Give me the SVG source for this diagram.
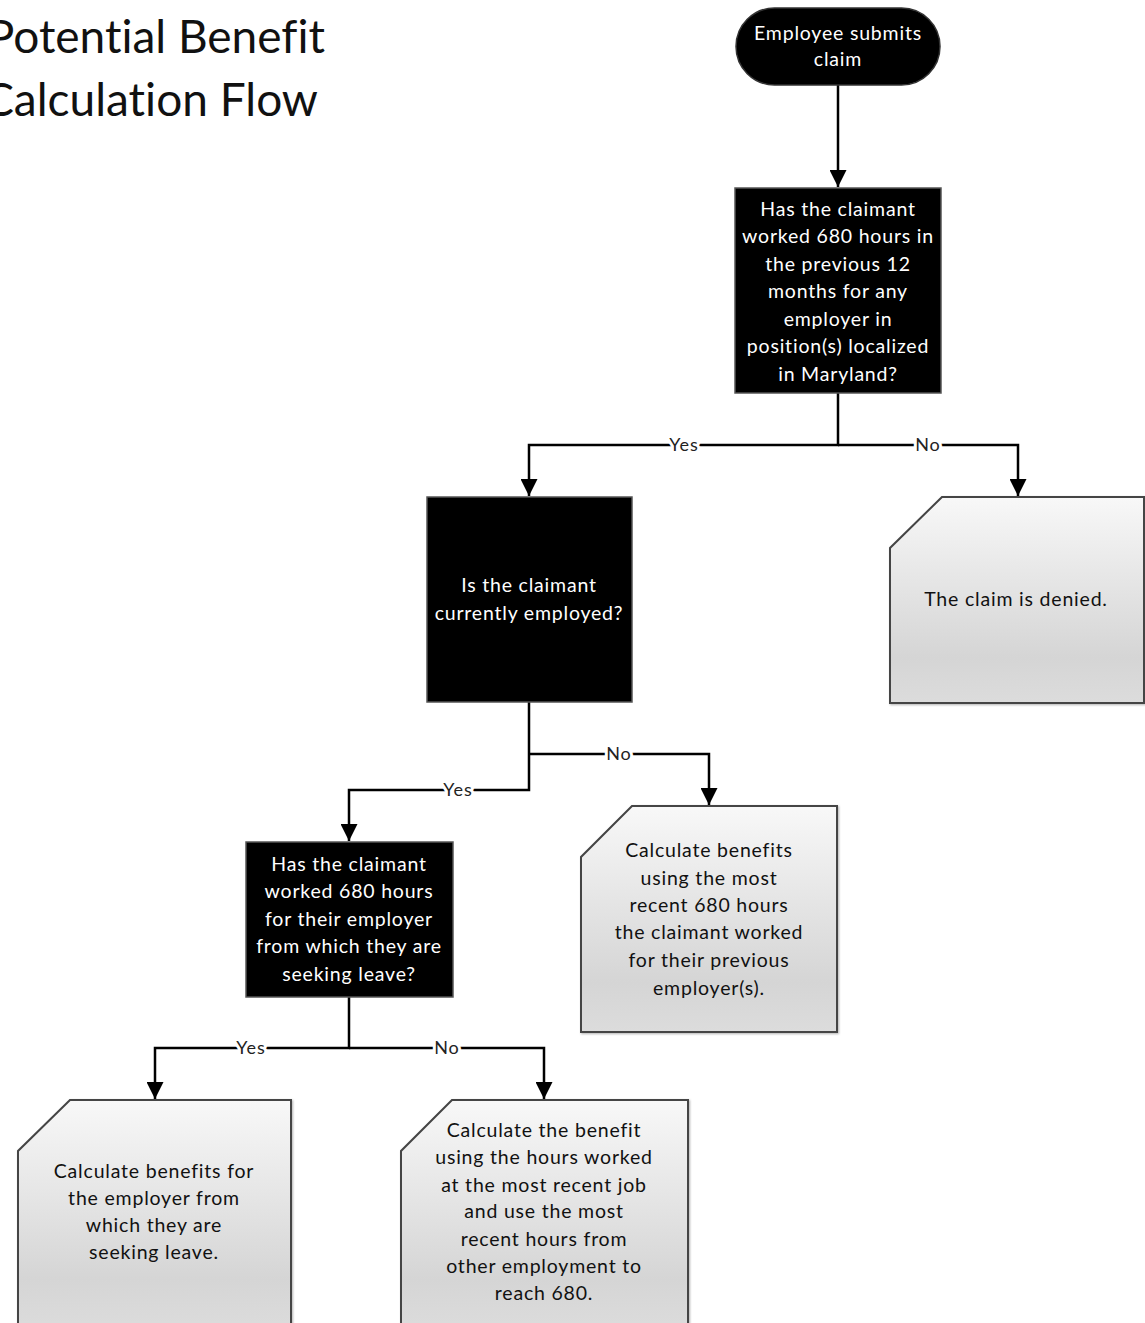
<svg xmlns="http://www.w3.org/2000/svg" width="1145" height="1323" viewBox="0 0 1145 1323">
<style>
.title{font-family:"Lato","Open Sans","Liberation Sans",sans-serif;font-size:46px;fill:#111;text-anchor:end;font-variant-ligatures:none}
.wt{font-family:"Lato","Open Sans","Liberation Sans",sans-serif;font-size:19.5px;letter-spacing:0.8px;fill:#fff;text-anchor:middle;font-variant-ligatures:none}
.bt{font-family:"Lato","Open Sans","Liberation Sans",sans-serif;font-size:19.5px;letter-spacing:0.8px;fill:#111;text-anchor:middle;font-variant-ligatures:none}
.dec{fill:#000;stroke:#555;stroke-width:1.5}
.proc{fill:url(#g);stroke:#444;stroke-width:2}
.con{fill:none;stroke:#000;stroke-width:2.5;marker-end:url(#arr)}
.lbl{font-family:"Lato","Open Sans","Liberation Sans",sans-serif;font-size:18px;letter-spacing:1px;fill:#222;text-anchor:middle;stroke:#fff;stroke-width:6;paint-order:stroke;stroke-linejoin:round}
</style>
<defs>
<linearGradient id="g" x1="0" y1="0" x2="0" y2="1">
<stop offset="0" stop-color="#f8f8f8"/>
<stop offset="0.78" stop-color="#d5d5d5"/>
<stop offset="1" stop-color="#dcdcdc"/>
</linearGradient>
<marker id="arr" viewBox="0 0 10 10" refX="10" refY="5" markerWidth="17" markerHeight="17" markerUnits="userSpaceOnUse" orient="auto">
<path d="M0,0 L10,5 L0,10 z" fill="#000"/>
</marker>
<filter id="sh" x="-5%" y="-5%" width="110%" height="110%">
<feDropShadow dx="1" dy="1" stdDeviation="1" flood-color="#000" flood-opacity="0.3"/>
</filter>
</defs>
<rect width="1145" height="1323" fill="#fff"/>

<g id="title">
<text class="title" x="325" y="53">Potential Benefit</text>
<text class="title" x="318" y="116">Calculation Flow</text>
</g>

<g id="connectors">
<path class="con" d="M838,85 L838,187"/>
<path class="con" d="M838,393 L838,445 L529,445 L529,496"/>
<path class="con" d="M838,445 L1018,445 L1018,496"/>
<path class="con" d="M529,702 L529,790 L349,790 L349,841"/>
<path class="con" d="M529,754 L709,754 L709,805"/>
<path class="con" d="M349,997 L349,1048 L155,1048 L155,1099"/>
<path class="con" d="M349,1048 L544,1048 L544,1099"/>
<text class="lbl" x="684" y="451">Yes</text>
<text class="lbl" x="928" y="451">No</text>
<text class="lbl" x="619" y="760">No</text>
<text class="lbl" x="458" y="796">Yes</text>
<text class="lbl" x="251" y="1054">Yes</text>
<text class="lbl" x="447" y="1054">No</text>
</g>

<g id="start">
<rect x="736" y="8" width="204" height="77" rx="38.5" ry="38.5" fill="#000" stroke="#333" stroke-width="1.5"/>
<text class="wt" x="838" y="40">Employee submits</text>
<text class="wt" x="838" y="66">claim</text>
</g>

<g id="decision1">
<rect class="dec" x="735" y="188" width="206" height="205"/>
<text class="wt" x="838" y="216">Has the claimant</text>
<text class="wt" x="838" y="243">worked 680 hours in</text>
<text class="wt" x="838" y="271">the previous 12</text>
<text class="wt" x="838" y="298">months for any</text>
<text class="wt" x="838" y="326">employer in</text>
<text class="wt" x="838" y="353">position(s) localized</text>
<text class="wt" x="838" y="381">in Maryland?</text>
</g>

<g id="denied">
<path class="proc" filter="url(#sh)" d="M942,497 L1144,497 L1144,703 L890,703 L890,548 Z"/>
<text class="bt" x="1016" y="606">The claim is denied.</text>
</g>

<g id="decision2">
<rect class="dec" x="427" y="497" width="205" height="205"/>
<text class="wt" x="529" y="592">Is the claimant</text>
<text class="wt" x="529" y="620">currently employed?</text>
</g>

<g id="previous">
<path class="proc" filter="url(#sh)" d="M632,806 L837,806 L837,1032 L581,1032 L581,857 Z"/>
<text class="bt" x="709" y="857">Calculate benefits</text>
<text class="bt" x="709" y="885">using the most</text>
<text class="bt" x="709" y="912">recent 680 hours</text>
<text class="bt" x="709" y="939">the claimant worked</text>
<text class="bt" x="709" y="967">for their previous</text>
<text class="bt" x="709" y="995">employer(s).</text>
</g>

<g id="decision3">
<rect class="dec" x="246" y="842" width="207" height="155"/>
<text class="wt" x="349" y="871">Has the claimant</text>
<text class="wt" x="349" y="898">worked 680 hours</text>
<text class="wt" x="349" y="926">for their employer</text>
<text class="wt" x="349" y="953">from which they are</text>
<text class="wt" x="349" y="981">seeking leave?</text>
</g>

<g id="leaveEmployer">
<path class="proc" filter="url(#sh)" d="M70,1100 L291,1100 L291,1330 L18,1330 L18,1151 Z"/>
<text class="bt" x="154" y="1178">Calculate benefits for</text>
<text class="bt" x="154" y="1205">the employer from</text>
<text class="bt" x="154" y="1232">which they are</text>
<text class="bt" x="154" y="1259">seeking leave.</text>
</g>

<g id="otherEmployment">
<path class="proc" filter="url(#sh)" d="M452,1100 L688,1100 L688,1330 L401,1330 L401,1151 Z"/>
<text class="bt" x="544" y="1137">Calculate the benefit</text>
<text class="bt" x="544" y="1164">using the hours worked</text>
<text class="bt" x="544" y="1192">at the most recent job</text>
<text class="bt" x="544" y="1218">and use the most</text>
<text class="bt" x="544" y="1246">recent hours from</text>
<text class="bt" x="544" y="1273">other employment to</text>
<text class="bt" x="544" y="1300">reach 680.</text>
</g>
</svg>
